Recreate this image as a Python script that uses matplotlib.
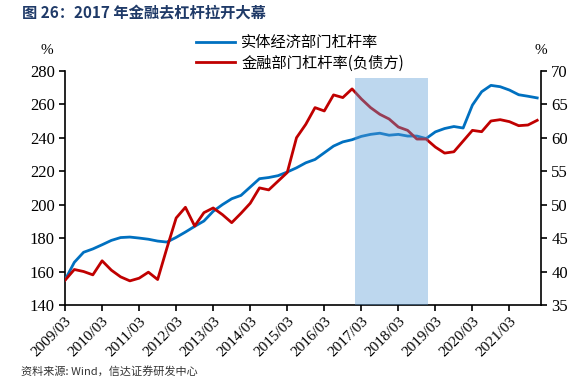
import matplotlib
matplotlib.use("Agg")
import matplotlib.pyplot as plt
import numpy as np

plt.rcParams['font.family'] = ['Liberation Serif', 'Noto Sans CJK SC', 'DejaVu Sans']

# quarterly, 2009Q1 .. 2021Q4
quarters = list(range(52))
tick_pos = list(range(0, 52, 4))
tick_labels = ["2009/03", "2010/03", "2011/03", "2012/03", "2013/03", "2014/03", "2015/03",
               "2016/03", "2017/03", "2018/03", "2019/03", "2020/03", "2021/03"]

# 实体经济部门杠杆率 (%; left axis)
real_lev = [155, 165.5, 171.5, 173.5, 176, 178.6, 180.3, 180.6, 180, 179.3, 178.2, 177.6,
            180.4, 183.6, 187, 190.2, 196, 200, 203.5, 205.5, 210.5, 215.5, 216.2, 217.3,
            219.5, 222, 225, 227, 231, 235, 237.5, 238.8, 240.8, 242, 242.7, 241.5,
            242, 241, 241, 239.5, 243.5, 245.5, 246.7, 245.8, 259.5, 267.5, 271.3, 270.5,
            268.5, 265.7, 264.8, 263.8]

# 金融部门杠杆率(负债方) (%; right axis)
fin_lev = [38.7, 40.3, 40, 39.5, 41.6, 40.2, 39.2, 38.6, 39, 39.9, 38.8, 43.5,
           48, 49.6, 46.8, 48.8, 49.5, 48.5, 47.3, 48.7, 50.2, 52.5, 52.2, 53.5,
           54.8, 60, 62, 64.5, 64, 66.4, 66, 67.3, 65.8, 64.5, 63.5, 62.8,
           61.6, 61.1, 59.8, 59.8, 58.6, 57.7, 57.9, 59.5, 61.1, 60.9, 62.5, 62.7,
           62.4, 61.8, 61.9, 62.6]

# 2017 去杠杆 period
span_start, span_end, span_top = 31.3, 39.2, 275.5

fig = plt.figure(figsize=(5.81, 3.87), dpi=100)
ax = fig.add_axes([0.112, 0.212, 0.819, 0.605])
ax2 = ax.twinx()

l1, = ax.plot(quarters, real_lev, color='#0070C0', lw=2.0, zorder=3)
l2, = ax2.plot(quarters, fin_lev, color='#C00000', lw=2.0, zorder=3)

# shaded period drawn on top of the lines, semi transparent
ax2.fill_between([span_start, span_end], [35, 35],
                 [35 + (span_top - 140) / 4, 35 + (span_top - 140) / 4],
                 color='#5B9BD5', alpha=0.4, lw=0, zorder=5)

ax.set_xlim(0, 51.4)
ax.set_ylim(140, 280)
ax.set_yticks(range(140, 281, 20))
ax2.set_ylim(35, 70)
ax2.set_yticks(range(35, 71, 5))
ax.set_xticks(tick_pos)
ax.set_xticklabels(tick_labels, rotation=45, ha='right', va='top', rotation_mode='anchor')

for a in (ax, ax2):
    a.spines['top'].set_visible(False)
    for s in a.spines.values():
        s.set_linewidth(1.2)
ax.spines['right'].set_visible(False)
ax2.spines['left'].set_visible(False)
ax2.spines['bottom'].set_visible(False)
ax.tick_params(axis='both', direction='out', length=4, width=1.2, labelsize=12, colors='black')
ax.tick_params(axis='x', labelsize=11, pad=3)
ax2.tick_params(axis='y', direction='out', length=4, width=1.2, labelsize=12)

fig.text(0.081, 0.87, '%', fontsize=11, ha='center', va='center')
fig.text(0.931, 0.87, '%', fontsize=11, ha='center', va='center')

fig.legend([l1, l2], ['实体经济部门杠杆率', '金融部门杠杆率(负债方)'],
           loc='upper left', bbox_to_anchor=(0.313, 0.948), frameon=False,
           handlelength=2.6, handletextpad=0.4, labelspacing=0.25,
           prop={'family': ['Noto Sans CJK SC', 'DejaVu Sans'], 'size': 11})

fig.text(0.038, 0.968, '图 26：2017 年金融去杠杆拉开大幕', fontsize=11, fontweight='bold',
         color='#1F3A68', ha='left', va='center', family=['Noto Sans CJK SC', 'DejaVu Sans'])
fig.text(0.036, 0.04, '资料来源: Wind，信达证券研发中心', fontsize=8, style='italic',
         color='#333333', ha='left', va='center', family=['Noto Sans CJK SC', 'DejaVu Sans'])

fig.savefig('out.png', dpi=100)
